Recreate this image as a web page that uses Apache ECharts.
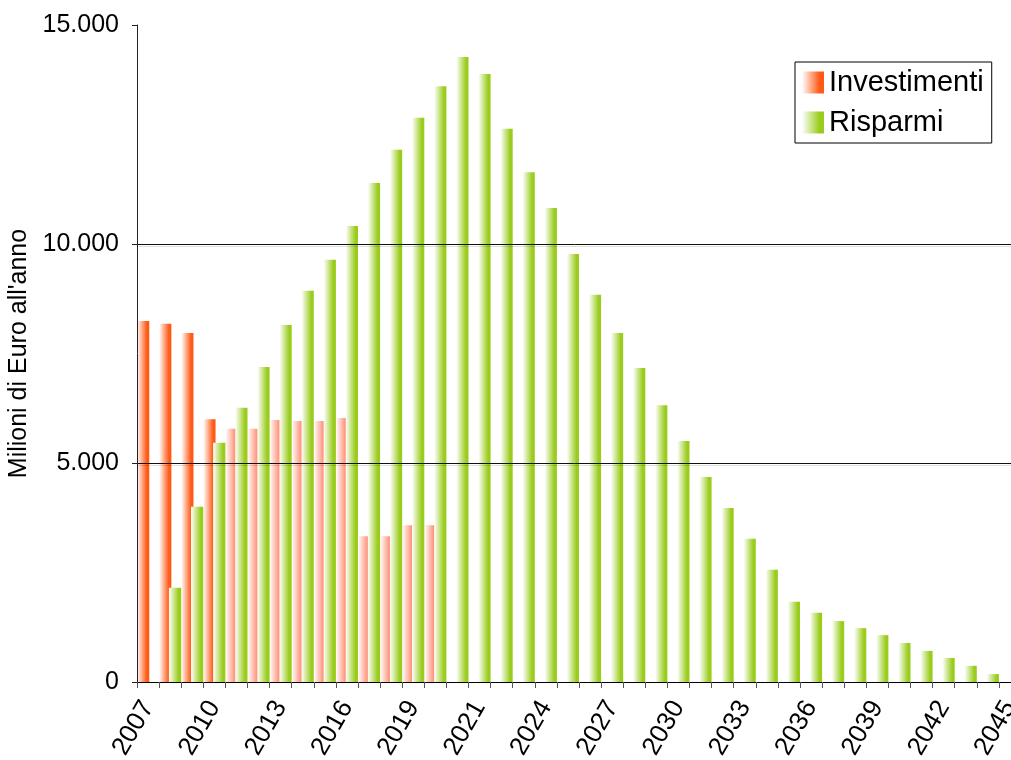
<!DOCTYPE html>
<html>
<head>
<meta charset="utf-8">
<script src="https://cdn.jsdelivr.net/npm/echarts@6/dist/echarts.min.js"></script>
<style>
html,body{margin:0;padding:0;background:#fff;}
#chart{width:1011px;height:760px;}
</style>
</head>
<body>
<div id="chart"></div>
<script>
var categories = ['2007','2008','2009','2010','2011','2012','2013','2014','2015','2016',
  '2017','2018','2019','2020','2020/21','2021','2022','2023','2024','2025',
  '2026','2027','2028','2029','2030','2031','2032','2033','2034','2035',
  '2036','2037','2038','2039','2040','2041','2042','2043','2044','2045'];

var investimenti = [8240, 8180, 7970, 6000, 5780, 5780, 5980, 5960, 5960, 6030,
  3330, 3330, 3580, 3580, 0, 0, 0, 0, 0, 0,
  0, 0, 0, 0, 0, 0, 0, 0, 0, 0,
  0, 0, 0, 0, 0, 0, 0, 0, 0, 0];

var risparmi = [0, 2150, 4000, 5460, 6260, 7190, 8150, 8930, 9640, 10410,
  11390, 12150, 12880, 13600, 14270, 13880, 12630, 11640, 10820, 9770,
  8840, 7970, 7170, 6320, 5500, 4680, 3970, 3270, 2560, 1830,
  1580, 1390, 1230, 1070, 890, 710, 550, 370, 180, 0];

var yTicks = [0, 5000, 10000, 15000];

function grad(c) {
  return new echarts.graphic.LinearGradient(0, 0, 1, 0, [
    {offset: 0, color: '#ffffff'},
    {offset: 0.8, color: c},
    {offset: 1, color: c}
  ]);
}
var ORANGE = '#ff5a16', ORANGE_LIGHT = '#ff8f76', GREEN = '#99cc1c';

var invData = investimenti.map(function (v, i) {
  return i < 4 ? v : {value: v, itemStyle: {color: grad(ORANGE_LIGHT)}};
});

var FONT = '"Liberation Sans", Arial, sans-serif';
var chart = echarts.init(document.getElementById('chart'), null, {renderer: 'canvas'});
chart.setOption({
  animation: false,
  backgroundColor: '#ffffff',
  grid: {left: 137, right: -10, top: 25, bottom: 78, containLabel: false, outerBoundsMode: 'none'},
  legend: {
    orient: 'vertical',
    left: 795, top: 62,
    padding: [6, 8, 6, 7],
    itemWidth: 22, itemHeight: 22, itemGap: 11,
    icon: 'rect',
    backgroundColor: '#fff',
    borderColor: '#000', borderWidth: 1,
    textStyle: {fontFamily: FONT, fontSize: 29, color: '#000'},
    data: ['Investimenti', 'Risparmi']
  },
  xAxis: {
    type: 'category',
    data: categories,
    boundaryGap: true,
    z: 5,
    axisLine: {lineStyle: {color: '#000', width: 1}},
    axisTick: {show: true, interval: 0, length: 6, lineStyle: {color: '#555'}},
    axisLabel: {
      interval: 2, rotate: 60, margin: 21,
      fontFamily: FONT, fontSize: 26, color: '#000'
    },
    splitLine: {show: false}
  },
  yAxis: {
    type: 'value',
    z: 5,
    min: yTicks[0], max: yTicks[yTicks.length - 1], interval: 5000,
    name: "Milioni di Euro all'anno",
    nameLocation: 'middle', nameGap: 102, nameRotate: 90,
    nameTextStyle: {fontFamily: FONT, fontSize: 25, color: '#000'},
    axisLine: {show: true, lineStyle: {color: '#222', width: 1}},
    axisTick: {show: true, length: 5, lineStyle: {color: '#222'}},
    axisLabel: {
      margin: 18, fontFamily: FONT, fontSize: 25, color: '#000',
      formatter: function (v) { return String(v).replace(/\B(?=(\d{3})+(?!\d))/g, '.'); }
    },
    splitLine: {
      show: true,
      lineStyle: {color: ['rgba(0,0,0,0)', '#111', '#111', 'rgba(0,0,0,0)'], width: 1,
        shadowColor: 'rgba(0,0,0,0.12)', shadowOffsetY: 2, shadowBlur: 0}
    }
  },
  series: [
    {
      name: 'Investimenti', type: 'bar',
      data: invData,
      barCategoryGap: '0%', barGap: '-20%',
      itemStyle: {color: grad(ORANGE)}
    },
    {
      name: 'Risparmi', type: 'bar',
      data: risparmi,
      barCategoryGap: '0%', barGap: '-20%',
      itemStyle: {color: grad(GREEN)}
    }
  ]
});
</script>
</body>
</html>
